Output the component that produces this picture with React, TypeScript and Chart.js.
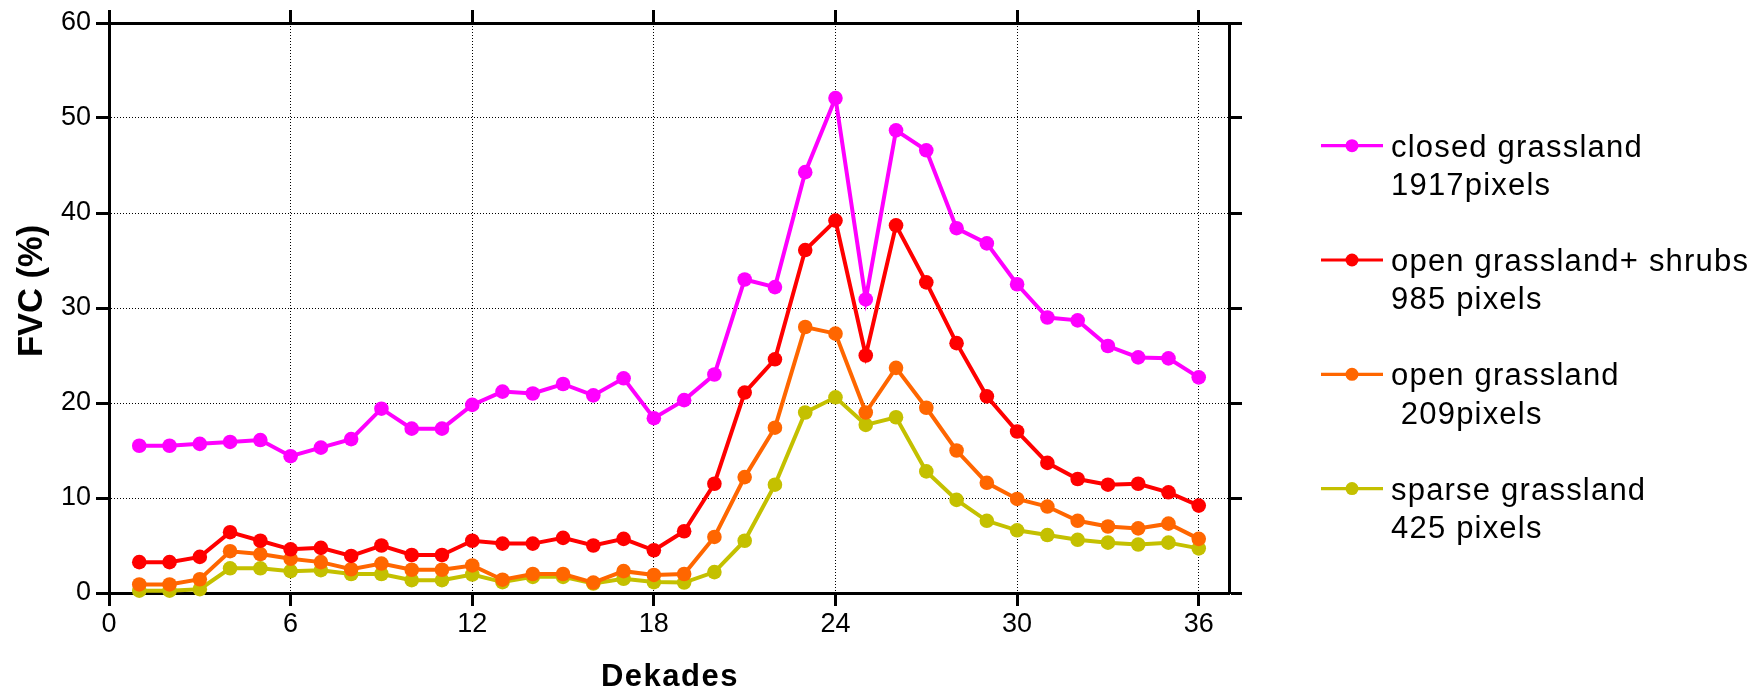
import React, { useEffect, useRef } from 'react';
import { Chart, registerables } from 'chart.js';

Chart.register(...registerables);

// ---- data ----
const dekades = [1, 2, 3, 4, 5, 6, 7, 8, 9, 10, 11, 12, 13, 14, 15, 16, 17, 18, 19, 20, 21, 22, 23, 24, 25, 26, 27, 28, 29, 30, 31, 32, 33, 34, 35, 36];

const closedGrassland = [15.5, 15.5, 15.7, 15.9, 16.1, 14.4, 15.3, 16.2, 19.4, 17.3, 17.3, 19.8, 21.2, 21.0, 22.0, 20.8, 22.6, 18.4, 20.3, 23.0, 33.0, 32.2, 44.3, 52.1, 30.9, 48.7, 46.6, 38.4, 36.8, 32.5, 29.0, 28.7, 26.0, 24.8, 24.7, 22.7];
const openGrasslandShrubs = [3.25, 3.25, 3.8, 6.4, 5.5, 4.6, 4.75, 3.9, 5.0, 4.0, 4.0, 5.5, 5.2, 5.2, 5.8, 5.0, 5.7, 4.5, 6.5, 11.5, 21.1, 24.6, 36.1, 39.2, 25.0, 38.7, 32.7, 26.3, 20.7, 17.0, 13.7, 12.0, 11.4, 11.5, 10.6, 9.2];
const openGrassland = [0.9, 0.9, 1.45, 4.4, 4.1, 3.6, 3.25, 2.5, 3.1, 2.45, 2.45, 2.9, 1.4, 2.0, 2.0, 1.1, 2.3, 1.9, 2.0, 5.9, 12.2, 17.4, 28.0, 27.3, 19.0, 23.7, 19.5, 15.0, 11.6, 9.9, 9.1, 7.6, 7.0, 6.8, 7.3, 5.7];
const sparseGrassland = [0.25, 0.25, 0.4, 2.6, 2.6, 2.3, 2.4, 2.0, 2.0, 1.35, 1.35, 1.95, 1.15, 1.7, 1.7, 1.0, 1.5, 1.15, 1.1, 2.2, 5.5, 11.4, 19.0, 20.6, 17.7, 18.5, 12.8, 9.8, 7.6, 6.6, 6.1, 5.6, 5.3, 5.1, 5.3, 4.7];

const seriesNames = ['closed grassland', 'open grassland+ shrubs', 'open grassland', 'sparse grassland'];
const seriesPixels = ['1917pixels', '985 pixels', ' 209pixels', '425 pixels'];
const seriesColors = ['#FF00FF', '#FF0000', '#FF6600', '#C4C000'];

const xTicks = [0, 6, 12, 18, 24, 30, 36];
const xTickLabels = ['0', '6', '12', '18', '24', '30', '36'];
const yTicks = [0, 10, 20, 30, 40, 50, 60];
const yTickLabels = ['0', '10', '20', '30', '40', '50', '60'];

const xTitle = 'Dekades';
const yTitle = 'FVC (%)';

const FONT = "'Liberation Sans', Arial, Helvetica, sans-serif";

export default function App() {
  const ref = useRef<HTMLCanvasElement>(null);

  useEffect(() => {
    const canvas = ref.current;
    if (!canvas) return;
    const allSeries = [closedGrassland, openGrasslandShrubs, openGrassland, sparseGrassland];

    const datasets = allSeries.map((vals, i) => ({
      label: seriesNames[i],
      data: dekades.map((d, j) => ({ x: d, y: vals[j] })),
      borderColor: seriesColors[i],
      backgroundColor: seriesColors[i],
      pointBackgroundColor: seriesColors[i],
      pointBorderColor: seriesColors[i],
      pointRadius: 7.3,
      pointBorderWidth: 0,
      borderWidth: 4,
      tension: 0,
      clip: false as any,
      xAxisID: 'x',
      yAxisID: 'y',
    }));

    const tickGrid = {
      color: '#000',
      lineWidth: 1,
      tickLength: 13,
      tickWidth: 3,
      tickColor: '#000',
      tickBorderDash: [] as number[],
      drawTicks: true,
    };
    const border = { display: true, color: '#000', width: 3, dash: [1, 2] };

    const overlay = {
      id: 'overlay',
      afterDraw(chart: any) {
        const ctx = chart.ctx as CanvasRenderingContext2D;
        const area = chart.chartArea;
        ctx.save();
        ctx.fillStyle = '#000';
        // x title
        ctx.font = `bold 31px ${FONT}`;
        (ctx as any).letterSpacing = '1.5px';
        ctx.textAlign = 'center';
        ctx.textBaseline = 'alphabetic';
        ctx.fillText(xTitle, (area.left + area.right) / 2 + 1, 686);
        // y title
        (ctx as any).letterSpacing = '0px';
        ctx.save();
        ctx.translate(41.7, 291);
        ctx.rotate(-Math.PI / 2);
        ctx.font = `bold 34.5px ${FONT}`;
        ctx.textAlign = 'center';
        ctx.fillText(yTitle, 0, 0);
        ctx.restore();
        // legend
        for (let i = 0; i < seriesNames.length; i++) {
          const ly = 145.7 + i * 114.3;
          ctx.strokeStyle = seriesColors[i];
          ctx.lineWidth = 3.2;
          ctx.beginPath();
          ctx.moveTo(1321, ly);
          ctx.lineTo(1383, ly);
          ctx.stroke();
          ctx.fillStyle = seriesColors[i];
          ctx.beginPath();
          ctx.arc(1352, ly, 6.5, 0, Math.PI * 2);
          ctx.fill();
          ctx.fillStyle = '#000';
          ctx.font = `31px ${FONT}`;
          (ctx as any).letterSpacing = '1.2px';
          ctx.textAlign = 'left';
          ctx.textBaseline = 'alphabetic';
          ctx.fillText(seriesNames[i], 1391, ly + 11);
          ctx.fillText(seriesPixels[i], 1391, ly + 49.3);
        }
        ctx.restore();
      },
    };

    const chart = new Chart(canvas, {
      type: 'line',
      data: { datasets: datasets as any },
      options: {
        animation: false,
        responsive: false,
        maintainAspectRatio: false,
        layout: { padding: 0 },
        plugins: {
          legend: { display: false },
          title: { display: false },
          tooltip: { enabled: false },
        },
        scales: {
          x: {
            type: 'linear',
            position: 'bottom',
            min: 0,
            max: 37,
            afterBuildTicks: (s: any) => {
              s.ticks = xTicks.map((v) => ({ value: v }));
            },
            afterFit: (s: any) => {
              s.height = 98;
            },
            ticks: {
              font: { family: FONT, size: 27 },
              color: '#000',
              padding: 2,
              maxRotation: 0,
              autoSkip: false,
              callback: (v: any) => {
                const k = xTicks.indexOf(Number(v));
                return k >= 0 ? xTickLabels[k] : '';
              },
            },
            grid: { ...tickGrid },
            border: { ...border },
          },
          x2: {
            type: 'linear',
            position: 'top',
            min: 0,
            max: 37,
            afterBuildTicks: (s: any) => {
              s.ticks = xTicks.map((v) => ({ value: v }));
            },
            afterFit: (s: any) => {
              s.height = 23;
            },
            ticks: { display: false },
            grid: { ...tickGrid, drawOnChartArea: false },
            border: { ...border },
          },
          y: {
            type: 'linear',
            position: 'left',
            min: 0,
            max: 60,
            afterBuildTicks: (s: any) => {
              s.ticks = yTicks.map((v) => ({ value: v }));
            },
            afterFit: (s: any) => {
              s.width = 109;
            },
            ticks: {
              font: { family: FONT, size: 27 },
              color: '#000',
              padding: 5,
              callback: (v: any) => {
                const k = yTicks.indexOf(Number(v));
                return k >= 0 ? yTickLabels[k] : '';
              },
            },
            grid: { ...tickGrid },
            border: { ...border },
          },
          y2: {
            type: 'linear',
            position: 'right',
            min: 0,
            max: 60,
            afterBuildTicks: (s: any) => {
              s.ticks = yTicks.map((v) => ({ value: v }));
            },
            afterFit: (s: any) => {
              s.width = 528;
            },
            ticks: { display: false },
            grid: { ...tickGrid, drawOnChartArea: false },
            border: { ...border },
          },
        },
      },
      plugins: [overlay],
    });

    return () => {
      chart.destroy();
    };
  }, []);

  return (
    <div style={{ position: 'fixed', left: 0, top: 0, width: 1757, height: 691, background: '#fff' }}>
      <canvas ref={ref} width={1757} height={691} style={{ display: 'block', width: 1757, height: 691 }} />
    </div>
  );
}
